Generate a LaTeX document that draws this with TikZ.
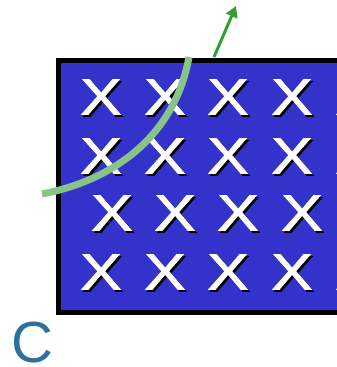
\documentclass[tikz,border=0pt]{standalone}
\usepackage{fontspec}
\setmainfont{Liberation Sans}
\usetikzlibrary{arrows.meta}
\font\xmarkfont="Liberation Sans:embolden=1.6" at 51pt
\definecolor{boxblue}{HTML}{3333CC}
\definecolor{lightgreen}{HTML}{88C488}
\definecolor{darkgreen}{HTML}{339E33}
\definecolor{letterblue}{HTML}{2F6F9F}
\tikzset{
  xmark/.style={font=\xmarkfont, inner sep=0pt, xscale=1.22},
}
\newcommand{\crossmark}[3]{%
  \node[xmark, text=black] (#3s) at (#1+2,#2+2) {X};
  \node[xmark, text=white] (#3) at (#1,#2) {X};
}
\begin{document}
\begin{tikzpicture}[x=1pt,y=-1pt]
\useasboundingbox (0,0) rectangle (337,367);
\node[draw=black, line width=5pt, fill=boxblue, minimum width=320pt, minimum height=252pt, anchor=north west, inner sep=0pt] (box) at (55.5,57.5) {};
\foreach \r/\y in {1/97,2/156,4/272}{
  \foreach \c/\x in {1/101,2/165,3/228,4/292,5/356}{
    \crossmark{\x}{\y}{x\r\c}
  }
}
\foreach \c/\x in {1/112,2/175,3/238,4/302,5/366}{
  \crossmark{\x}{213}{x3\c}
}
\node[font=\fontsize{58}{58}\selectfont, text=letterblue, inner sep=0pt] (C) at (32,343) {C};
\coordinate (gs) at (42,194);
\coordinate (ge) at (189,57);
\draw[lightgreen, line width=7pt] (gs) .. controls (115,180) and (175,135) .. (ge);
\coordinate (as) at (214,57);
\coordinate (ae) at (236,6);
\draw[darkgreen, line width=3pt, -{Triangle[length=11pt,width=12pt]}] (as) -- (ae);
\end{tikzpicture}
\end{document}
